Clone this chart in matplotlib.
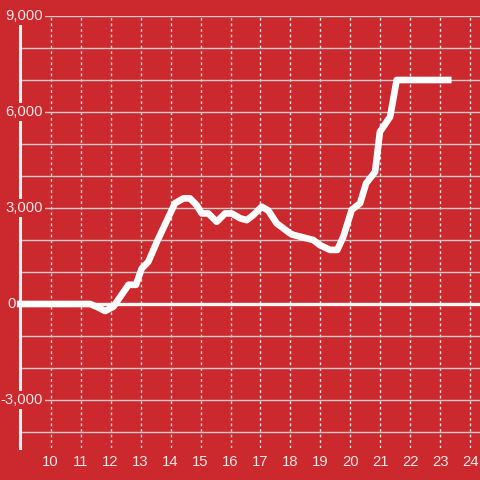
import matplotlib
matplotlib.use("Agg")
import matplotlib.pyplot as plt
from matplotlib.ticker import MultipleLocator

BG = "#cc292e"
TXT = "#f3e4e4"

# time of day (hours) and value
hours = [8.88, 11.32, 11.55, 11.82, 12.1, 12.6, 12.85, 13.04, 13.26, 13.55, 13.8,
         14.15, 14.43, 14.65, 14.87, 15.04, 15.26, 15.54, 15.82, 16.04, 16.32,
         16.54, 16.76, 17.04, 17.26, 17.54, 17.98, 18.09, 18.76, 18.98, 19.32,
         19.56, 19.76, 20.04, 20.32, 20.52, 20.82, 20.98, 21.32, 21.54, 23.37]
values = [0, 0, -90, -220, -80, 600, 600, 1110, 1320, 1950, 2450,
          3150, 3300, 3300, 3090, 2830, 2830, 2570, 2830, 2830, 2680,
          2620, 2780, 3040, 2920, 2520, 2210, 2160, 2000, 1840, 1690,
          1690, 2100, 2940, 3150, 3770, 4130, 5380, 5850, 7000, 7000]

x_ticks = list(range(10, 25))
y_ticks = [-3000, 0, 3000, 6000, 9000]
y_labels = ["-3,000", "0", "3,000", "6,000", "9,000"]

plt.rcParams["font.family"] = ["Liberation Sans", "DejaVu Sans"]

fig = plt.figure(figsize=(4.8, 4.8), dpi=100, facecolor=BG)
ax = fig.add_axes([20 / 480, 32 / 480, 460 / 480, 432 / 480])
ax.set_facecolor(BG)

ax.set_xlim(8.983, 24.317)
ax.set_ylim(-4500, 9000)

# grid
ax.yaxis.set_minor_locator(MultipleLocator(1000))
ax.grid(axis="y", which="both", color="#c9c9c9", lw=1.0, ls="-")
ax.grid(axis="x", which="major", color="#e0e0e0", lw=1.0, ls=(0, (2, 2)))

ax.set_xticks(x_ticks)
ax.set_xticklabels([str(t) for t in x_ticks])
ax.set_yticks(y_ticks)
ax.set_yticklabels([])

ax.tick_params(axis="x", length=0, pad=5, labelsize=10.7, labelcolor=TXT)
ax.tick_params(axis="y", which="both", length=0)

# y labels sit over the spine on a red patch (the zero label sits left of it)
for val, lab in zip(y_ticks, y_labels):
    if val == 0:
        ax.text(-4.5 / 460, val, lab, transform=ax.get_yaxis_transform(),
                ha="right", va="center", fontsize=10.7, color=TXT, zorder=5,
                clip_on=False)
    else:
        ax.text(23 / 460, val, lab, transform=ax.get_yaxis_transform(),
                ha="right", va="center", fontsize=10.7, color=TXT, zorder=5,
                clip_on=False,
                bbox=dict(facecolor=BG, edgecolor="none", pad=1.5))

for side in ["top", "right", "bottom"]:
    ax.spines[side].set_visible(False)
ax.spines["left"].set_color("#f5f5f5")
ax.spines["left"].set_linewidth(2.2)

ax.axhline(0, color="#f7f7f7", lw=2.4, zorder=2.6)
ax.plot(hours, values, color="white", lw=4.8, solid_joinstyle="round",
        solid_capstyle="butt", zorder=3, clip_on=False)

fig.savefig("out.png", dpi=100, facecolor=BG)
